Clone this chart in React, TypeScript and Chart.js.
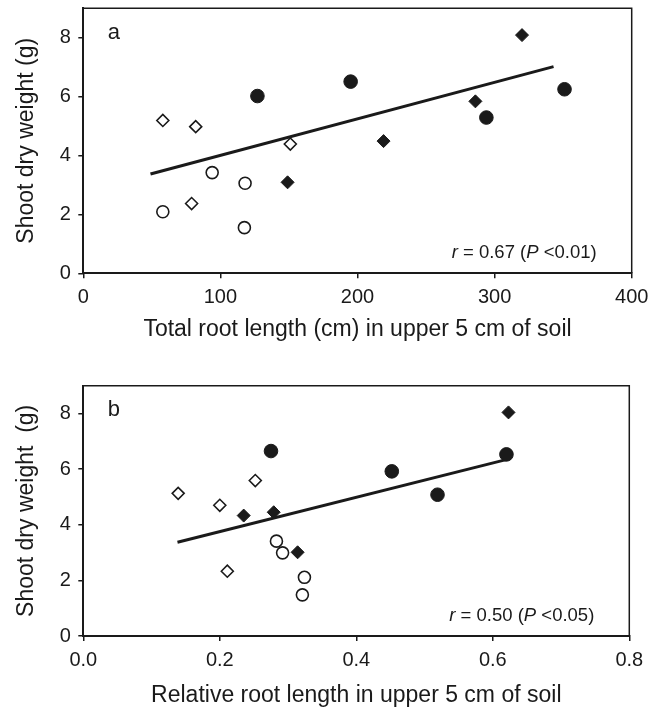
import React, { useEffect, useRef } from "react";
import { Chart, registerables } from "chart.js";

Chart.register(...registerables);

const FONT = "'Liberation Sans', Arial, Helvetica, sans-serif";
const INK = "#1a1a1a";

// ---------- Panel a: total root length ----------
const aOpenDiamondX = [58, 82, 151, 79];
const aOpenDiamondY = [5.19, 4.98, 4.39, 2.37];
const aOpenCircleX = [58, 94, 118, 117.5];
const aOpenCircleY = [2.09, 3.42, 3.06, 1.55];
const aFilledCircleX = [127, 195, 294, 351];
const aFilledCircleY = [6.02, 6.51, 5.29, 6.25];
const aFilledDiamondX = [149, 219, 286, 320];
const aFilledDiamondY = [3.09, 4.49, 5.84, 8.09];
const aLineX = [49, 343];
const aLineY = [3.37, 7.02];
const aXTicks = [0, 100, 200, 300, 400];
const aYTicks = [0, 2, 4, 6, 8];
const aXTitle = "Total root length (cm) in upper 5 cm of soil";
const aYTitle = "Shoot dry weight (g)";
const aLabel = "a";
const aR = "0.67";
const aP = "<0.01";

// ---------- Panel b: relative root length ----------
const bOpenDiamondX = [0.139, 0.2, 0.252, 0.211];
const bOpenDiamondY = [5.13, 4.7, 5.59, 2.33];
const bOpenCircleX = [0.283, 0.292, 0.324, 0.321];
const bOpenCircleY = [3.41, 2.99, 2.11, 1.48];
const bFilledCircleX = [0.275, 0.452, 0.519, 0.62];
const bFilledCircleY = [6.65, 5.92, 5.08, 6.53];
const bFilledDiamondX = [0.235, 0.279, 0.314, 0.623];
const bFilledDiamondY = [4.33, 4.45, 3.01, 8.04];
const bLineX = [0.138, 0.621];
const bLineY = [3.37, 6.35];
const bXTicks = [0, 0.2, 0.4, 0.6, 0.8];
const bYTicks = [0, 2, 4, 6, 8];
const bXTitle = "Relative root length in upper 5 cm of soil";
const bYTitle = "Shoot dry weight  (g)";
const bLabel = "b";
const bR = "0.50";
const bP = "<0.05";

const pts = (xs: number[], ys: number[]) => xs.map((x, i) => ({ x, y: ys[i] }));

type Panel = {
  width: number;
  height: number;
  pad: { top: number; right: number };
  yAxisWidth: number;
  xAxisHeight: number;
  xMax: number;
  xTicks: number[];
  yTicks: number[];
  xDecimals: number;
  xTitle: string;
  yTitle: string;
  xTitlePad: number;
  label: string;
  r: string;
  p: string;
  data: {
    od: { x: number; y: number }[];
    oc: { x: number; y: number }[];
    fc: { x: number; y: number }[];
    fd: { x: number; y: number }[];
    line: { x: number; y: number }[];
  };
};

const panelTextPlugin = {
  id: "panelText",
  afterDraw(chart: any, _args: any, opts: any) {
    const { ctx, chartArea } = chart;
    ctx.save();
    // top and right frame
    ctx.strokeStyle = INK;
    ctx.lineWidth = 1.5;
    ctx.beginPath();
    ctx.moveTo(chartArea.left, chartArea.top);
    ctx.lineTo(chartArea.right, chartArea.top);
    ctx.lineTo(chartArea.right, chartArea.bottom);
    ctx.stroke();

    // panel letter
    ctx.fillStyle = INK;
    ctx.textAlign = "left";
    ctx.textBaseline = "alphabetic";
    ctx.font = `22px ${FONT}`;
    ctx.fillText(opts.label, chartArea.left + 24.5, chartArea.top + 30.5);

    // r = .. (P ..)
    const size = 18.5;
    const segs = [
      { t: "r", it: true },
      { t: " = " + opts.r + " (", it: false },
      { t: "P", it: true },
      { t: " " + opts.p + ")", it: false },
    ];
    const fontOf = (it: boolean) => `${it ? "italic " : ""}${size}px ${FONT}`;
    let total = 0;
    for (const s of segs) {
      ctx.font = fontOf(s.it);
      total += ctx.measureText(s.t).width;
    }
    let x = chartArea.right - 35 - total;
    const y = chartArea.bottom - 15.5;
    for (const s of segs) {
      ctx.font = fontOf(s.it);
      ctx.fillText(s.t, x, y);
      x += ctx.measureText(s.t).width;
    }
    ctx.restore();
  },
};

function makeConfig(p: Panel): any {
  const fixAxis = (kind: "x" | "y") => (scale: any) => {
    if (kind === "y") scale.width = p.yAxisWidth;
    else scale.height = p.xAxisHeight;
    scale.paddingLeft = 0;
    scale.paddingRight = 0;
    scale.paddingTop = 0;
    scale.paddingBottom = 0;
  };
  const common = {
    grid: {
      display: true,
      drawOnChartArea: false,
      drawTicks: true,
      tickLength: 5,
      color: INK,
      tickColor: INK,
      lineWidth: 1.5,
      tickWidth: 1.5,
    },
    border: { display: true, color: INK, width: 2 },
  };
  return {
    type: "scatter",
    data: {
      datasets: [
        {
          label: "open diamonds",
          data: p.data.od,
          pointStyle: "rectRot",
          pointRadius: 6,
          backgroundColor: "#ffffff",
          borderColor: INK,
          borderWidth: 1.6,
        },
        {
          label: "open circles",
          data: p.data.oc,
          pointStyle: "circle",
          pointRadius: 6,
          backgroundColor: "#ffffff",
          borderColor: INK,
          borderWidth: 1.6,
        },
        {
          label: "filled circles",
          data: p.data.fc,
          pointStyle: "circle",
          pointRadius: 6.8,
          backgroundColor: INK,
          borderColor: INK,
          borderWidth: 1,
        },
        {
          label: "filled diamonds",
          data: p.data.fd,
          pointStyle: "rectRot",
          pointRadius: 6.5,
          backgroundColor: INK,
          borderColor: INK,
          borderWidth: 1,
        },
        {
          type: "line",
          label: "regression",
          data: p.data.line,
          showLine: true,
          borderColor: INK,
          borderWidth: 3,
          pointRadius: 0,
          fill: false,
        },
      ],
    },
    options: {
      responsive: false,
      animation: false,
      events: [],
      layout: { padding: { left: 0, top: p.pad.top, right: p.pad.right, bottom: 0 } },
      plugins: {
        legend: { display: false },
        tooltip: { enabled: false },
        panelText: { label: p.label, r: p.r, p: p.p },
      },
      scales: {
        x: {
          type: "linear",
          position: "bottom",
          min: p.xTicks[0],
          max: p.xMax,
          afterBuildTicks: (scale: any) => {
            scale.ticks = p.xTicks.map((v) => ({ value: v }));
          },
          afterFit: fixAxis("x"),
          ticks: {
            padding: 7,
            color: INK,
            font: { family: FONT, size: 20 },
            maxRotation: 0,
            callback: (v: any) => Number(v).toFixed(p.xDecimals),
          },
          title: {
            display: true,
            text: p.xTitle,
            color: INK,
            font: { family: FONT, size: 23 },
            padding: { top: 0, bottom: p.xTitlePad },
          },
          ...common,
        },
        y: {
          type: "linear",
          position: "left",
          min: 0,
          max: 9,
          afterBuildTicks: (scale: any) => {
            scale.ticks = p.yTicks.map((v) => ({ value: v }));
          },
          afterFit: fixAxis("y"),
          ticks: {
            padding: 7.5,
            color: INK,
            font: { family: FONT, size: 20 },
            callback: (v: any) => String(v),
          },
          title: {
            display: true,
            text: p.yTitle,
            color: INK,
            font: { family: FONT, size: 23 },
            padding: { top: 13, bottom: 0 },
          },
          ...common,
        },
      },
    },
    plugins: [panelTextPlugin],
  };
}

function ChartPanel({ spec }: { spec: Panel }) {
  const ref = useRef<HTMLCanvasElement | null>(null);
  useEffect(() => {
    if (!ref.current) return;
    const chart = new Chart(ref.current, makeConfig(spec));
    return () => chart.destroy();
  }, [spec]);
  return (
    <canvas
      ref={ref}
      width={spec.width}
      height={spec.height}
      style={{ display: "block", width: spec.width, height: spec.height }}
    />
  );
}

const panelA: Panel = {
  width: 666,
  height: 355,
  pad: { top: 8.3, right: 34.3 },
  yAxisWidth: 83.3,
  xAxisHeight: 81.7,
  xMax: 400,
  xTicks: aXTicks,
  yTicks: aYTicks,
  xDecimals: 0,
  xTitle: aXTitle,
  yTitle: aYTitle,
  xTitlePad: 12,
  label: aLabel,
  r: aR,
  p: aP,
  data: {
    od: pts(aOpenDiamondX, aOpenDiamondY),
    oc: pts(aOpenCircleX, aOpenCircleY),
    fc: pts(aFilledCircleX, aFilledCircleY),
    fd: pts(aFilledDiamondX, aFilledDiamondY),
    line: pts(aLineX, aLineY),
  },
};

const panelB: Panel = {
  width: 666,
  height: 354,
  pad: { top: 30.7, right: 36.7 },
  yAxisWidth: 83.3,
  xAxisHeight: 73,
  xMax: 0.8,
  xTicks: bXTicks,
  yTicks: bYTicks,
  xDecimals: 1,
  xTitle: bXTitle,
  yTitle: bYTitle,
  xTitlePad: 0,
  label: bLabel,
  r: bR,
  p: bP,
  data: {
    od: pts(bOpenDiamondX, bOpenDiamondY),
    oc: pts(bOpenCircleX, bOpenCircleY),
    fc: pts(bFilledCircleX, bFilledCircleY),
    fd: pts(bFilledDiamondX, bFilledDiamondY),
    line: pts(bLineX, bLineY),
  },
};

export default function App() {
  return (
    <div
      style={{
        position: "absolute",
        left: 0,
        top: 0,
        width: 666,
        height: 709,
        background: "#ffffff",
        overflow: "hidden",
      }}
    >
      <ChartPanel spec={panelA} />
      <ChartPanel spec={panelB} />
    </div>
  );
}
